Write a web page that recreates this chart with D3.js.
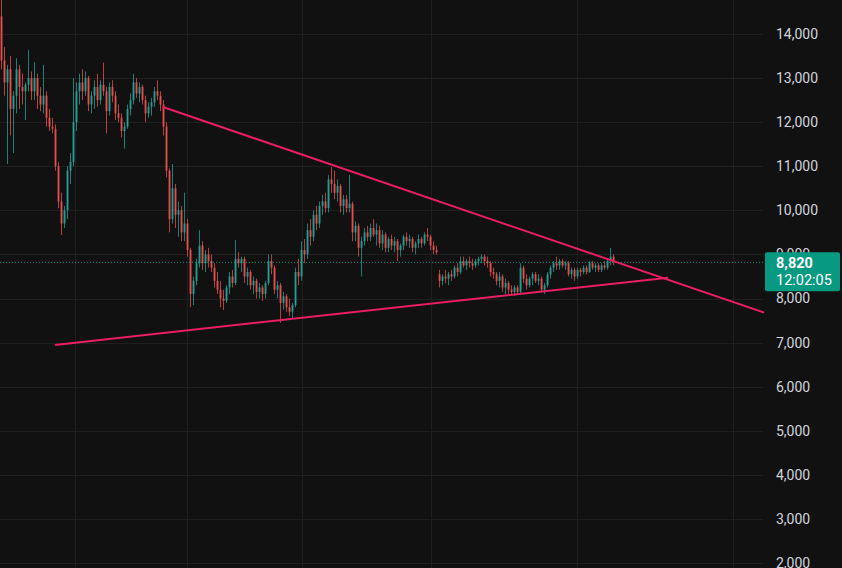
<!DOCTYPE html>
<html>
<head>
<meta charset="utf-8">
<script src="https://cdn.jsdelivr.net/npm/d3@7"></script>
<style>
  html, body { margin: 0; padding: 0; background: #111111; overflow: hidden; }
  #chart text { font-family: Roboto, "Liberation Sans", sans-serif; }
</style>
</head>
<body>
<div id="chart"></div>
<script>
"use strict";

// candle data, one candle per slot
var opens = [
  14400,13400,12900,13200,12300,12600,13200,12800,12700,12850,
  13000,12700,13000,12600,12400,12600,12100,11900,11850,11000,
  10200,9700,10000,10900,11100,12000,12700,12900,12700,13000,
  12400,12600,12800,12500,12850,12700,12250,12800,12600,12200,
  12100,11800,11900,12300,12500,12900,12650,12800,12500,12200,
  12350,12450,12700,12600,12400,11900,10900,9800,10500,9900,
  10000,9500,9700,9100,8100,8400,8800,9200,8800,9000,
  8850,8700,8400,8200,8000,7950,8250,8500,8350,8900,
  8800,8900,8500,8600,8300,8400,8150,8250,8100,8350,
  8850,8700,8200,8300,7900,8050,7800,7700,7850,8600,
  8500,9100,9000,9550,9400,9900,9700,10100,10200,10050,
  10700,10600,10400,10550,10100,10250,10050,10150,9500,9650,
  9150,9300,9500,9400,9600,9450,9550,9250,9450,9150,
  9350,9200,9300,9100,9200,9400,9300,9350,9150,9250,
  9350,9250,9450,9400,9200,9100,8550,8400,8500,8450,
  8550,8500,8700,8600,8850,8750,8850,8800,8750,8850,
  8900,8950,8850,8800,8600,8550,8400,8500,8250,8350,
  8200,8150,8250,8150,8700,8450,8300,8450,8550,8400,
  8450,8200,8300,8550,8700,8800,8750,8850,8750,8800,
  8550,8650,8500,8650,8600,8700,8600,8800,8700,8750,
  8650,8750,8700,8850,8950
];
var highs = [
  14770,13700,13300,13500,12700,13450,13300,13100,12900,13640,
  13150,13360,13100,12800,13300,12700,12300,12100,11950,11100,
  10400,10100,11000,11300,13000,12900,13100,13200,13150,13050,
  12700,12950,13100,12950,13350,12800,12900,12950,12700,12400,
  12200,12000,12400,12650,13100,13000,12900,12850,12600,12450,
  12550,12800,12950,12700,12500,12000,10950,11050,10600,10200,
  10100,10400,9800,9150,8500,8900,9550,9300,9100,9150,
  9000,8800,8600,8400,8200,8300,8600,8650,9330,9050,
  8950,8950,8700,8650,8500,8450,8350,8300,8400,9000,
  9000,8750,8400,8350,8150,8100,8000,7900,8700,8900,
  9300,9350,9700,9800,10000,10100,10200,10350,10400,10800,
  10980,10900,10700,10600,10350,10350,10800,10200,9750,9700,
  9400,9600,9650,9700,9800,9700,9650,9550,9500,9400,
  9450,9400,9350,9250,9450,9500,9450,9400,9300,9450,
  9400,9500,9600,9450,9300,9200,8650,8550,8650,8600,
  8650,8750,8800,8950,8950,8900,8950,8900,8900,8950,
  9000,9000,8950,8850,8700,8600,8600,8550,8450,8400,
  8300,8300,8300,8800,8750,8550,8500,8600,8600,8550,
  8500,8350,8600,8750,8850,8950,8900,8900,8850,8850,
  8700,8700,8700,8700,8750,8750,8850,8850,8800,8800,
  8800,8850,8900,9150,9000
];
var lows = [
  13200,12600,11050,11700,11300,12200,12300,12400,12050,12700,
  12500,12500,12300,12250,12200,11900,11800,11750,10900,10050,
  9440,9600,9800,10600,11000,11800,12400,12500,12600,12250,
  12200,12300,12350,12400,12600,11750,12150,12450,12050,12000,
  11650,11400,11850,12150,12400,12550,12450,12400,12000,12100,
  12150,12350,12500,12250,11700,10750,9500,9700,9600,9400,
  9300,9300,8950,7800,7850,8300,8700,8650,8600,8700,
  8600,8250,8100,7800,7740,7900,8100,8250,8300,8700,
  8600,8350,8300,8200,8100,8000,8000,7950,8000,8300,
  8550,8100,8000,7450,7750,7700,7600,7550,7800,8300,
  8400,8800,8900,9200,9300,9550,9600,9900,9950,9950,
  10400,10250,10200,9950,9900,9950,9950,9300,9300,8950,
  8500,9200,9300,9300,9400,9200,9150,9100,9050,9050,
  9100,9050,8850,8950,9100,9200,9150,9050,9000,9150,
  9150,9200,9300,9100,9000,9000,8250,8300,8350,8300,
  8400,8450,8500,8550,8700,8650,8700,8650,8700,8750,
  8800,8750,8700,8500,8450,8300,8250,8150,8100,8100,
  8080,8070,8090,8100,8350,8200,8250,8300,8350,8300,
  8150,8100,8250,8450,8600,8650,8650,8700,8650,8500,
  8450,8400,8450,8500,8550,8550,8580,8650,8600,8600,
  8600,8650,8650,8750,8750
];
var closes = [
  13400,12900,13200,12300,12600,13200,12800,12700,12850,13000,
  12700,13000,12600,12400,12600,12100,11900,11850,11000,10200,
  9700,10000,10900,11100,12000,12700,12900,12700,13000,12400,
  12600,12800,12500,12850,12700,12250,12800,12600,12200,12100,
  11800,11900,12300,12500,12900,12650,12800,12500,12200,12350,
  12450,12700,12600,12400,11900,10900,9800,10500,9900,10000,
  9500,9700,9100,8100,8400,8800,9200,8800,9000,8850,
  8700,8400,8200,8000,7950,8250,8500,8350,8900,8800,
  8900,8500,8600,8300,8400,8150,8250,8100,8350,8850,
  8700,8200,8300,7900,8050,7800,7700,7850,8600,8500,
  9100,9000,9550,9400,9900,9700,10100,10200,10050,10700,
  10600,10400,10550,10100,10250,10050,10150,9500,9650,9150,
  9300,9500,9400,9600,9450,9550,9250,9450,9150,9350,
  9200,9300,9100,9200,9400,9300,9350,9150,9250,9350,
  9250,9450,9400,9200,9100,9050,8400,8500,8450,8550,
  8500,8700,8600,8850,8750,8850,8800,8750,8850,8900,
  8950,8850,8800,8600,8550,8400,8500,8250,8350,8200,
  8150,8250,8150,8700,8450,8300,8450,8550,8400,8450,
  8200,8300,8550,8700,8800,8750,8850,8750,8800,8550,
  8650,8500,8650,8600,8700,8600,8800,8700,8750,8650,
  8750,8700,8850,8950,8820
];

// price axis ticks
var priceTicks = [2000,3000,4000,5000,6000,7000,8000,9000,10000,11000,12000,13000,14000];
// time grid positions (in candle slots)
var timeGrid = [25, 62.3, 100.7, 143.7, 192.3, 244.3];

// trend lines: [slot, price]
var upperTrend = [[54.3, 12344], [254.7, 7679]];
var lowerTrend = [[18.3, 6947], [222.7, 8473]];

var lastPrice = 8820;
var lastTime = "12:02:05";

var width = 842, height = 568, plotRight = 763;

var svg = d3.select("#chart")
            .append("svg")
            .attr("width", width)
            .attr("height", height)
            .style("display", "block");

svg.append("rect")
   .attr("width", width)
   .attr("height", height)
   .attr("fill", "#111111");

var xScale = d3.scaleLinear()
               .domain([0, 254.3])
               .range([0, plotRight]);

var yScale = d3.scaleLinear()
               .domain([2000, 14000])
               .range([563, 34]);

// grid
svg.append("g")
   .selectAll("line")
   .data(priceTicks)
   .enter()
   .append("line")
   .attr("x1", 0)
   .attr("x2", plotRight)
   .attr("y1", function(d) { return Math.round(yScale(d)) + 0.5; })
   .attr("y2", function(d) { return Math.round(yScale(d)) + 0.5; })
   .attr("stroke", "#1f1f1f");

svg.append("g")
   .selectAll("line")
   .data(timeGrid)
   .enter()
   .append("line")
   .attr("x1", function(d) { return Math.round(xScale(d)) + 0.5; })
   .attr("x2", function(d) { return Math.round(xScale(d)) + 0.5; })
   .attr("y1", 0)
   .attr("y2", height)
   .attr("stroke", "#1f1f1f");

// price line
svg.append("line")
   .attr("x1", 0)
   .attr("x2", plotRight)
   .attr("y1", yScale(lastPrice))
   .attr("y2", yScale(lastPrice))
   .attr("stroke", "#089981")
   .attr("stroke-width", 1)
   .attr("stroke-dasharray", "1,2");

// candles
var candles = svg.append("g")
                 .selectAll("g")
                 .data(closes)
                 .enter()
                 .append("g");

var candleColor = function(i) {
  return closes[i] >= opens[i] ? "#26a69a" : "#ef5350";
};

candles.append("line")
   .attr("x1", function(d, i) { return xScale(i + 0.5); })
   .attr("x2", function(d, i) { return xScale(i + 0.5); })
   .attr("y1", function(d, i) { return yScale(highs[i]); })
   .attr("y2", function(d, i) { return yScale(lows[i]); })
   .attr("stroke", function(d, i) { return candleColor(i); })
   .attr("stroke-opacity", 0.75)
   .attr("stroke-width", 1);

candles.append("rect")
   .attr("x", function(d, i) { return xScale(i + 0.5) - 1; })
   .attr("y", function(d, i) { return yScale(Math.max(opens[i], closes[i])); })
   .attr("width", 2)
   .attr("height", function(d, i) {
     return Math.max(1, Math.abs(yScale(opens[i]) - yScale(closes[i])));
   })
   .attr("fill", function(d, i) { return candleColor(i); })
   .attr("fill-opacity", 0.8);

// trend lines
var trendLine = d3.line()
                  .x(function(d) { return xScale(d[0]); })
                  .y(function(d) { return yScale(d[1]); });

[upperTrend, lowerTrend].forEach(function(t) {
  svg.append("path")
     .attr("d", trendLine(t))
     .attr("fill", "none")
     .attr("stroke", "#e91e63")
     .attr("stroke-width", 2);
});

// price axis on the right
var yAxis = d3.axisRight()
              .scale(yScale)
              .tickValues(priceTicks)
              .tickSize(0)
              .tickPadding(13)
              .tickFormat(d3.format(","));

var axisG = svg.append("g")
               .attr("transform", "translate(" + plotRight + ",0)")
               .call(yAxis);
axisG.select(".domain").remove();
axisG.selectAll("text")
     .attr("fill", "#d1d4dc")
     .style("font-size", "14px");

// last price label
var labelG = svg.append("g")
                .attr("transform", "translate(765," + (yScale(lastPrice) - 10) + ")");
labelG.append("rect")
      .attr("width", 75)
      .attr("height", 39)
      .attr("rx", 2)
      .attr("fill", "#089981");
labelG.append("text")
      .attr("x", 11)
      .attr("y", 16)
      .attr("fill", "#ffffff")
      .style("font-size", "14.5px")
      .style("font-weight", "bold")
      .text(d3.format(",")(lastPrice));
labelG.append("text")
      .attr("x", 11)
      .attr("y", 33)
      .attr("fill", "#ffffff")
      .style("font-size", "14.5px")
      .text(lastTime);
</script>
</body>
</html>
